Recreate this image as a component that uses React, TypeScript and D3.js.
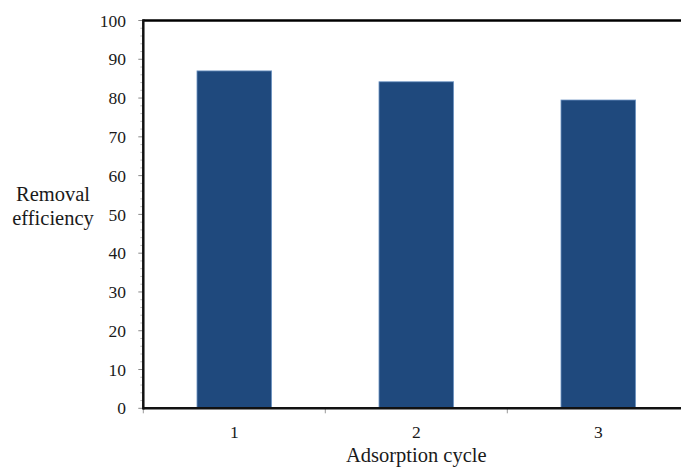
import React, { useEffect } from 'react';
import * as d3 from 'd3';

// Values
const cycles = ['1', '2', '3'];
const removal = [87.0, 84.2, 79.5];
const yTicks = [0, 10, 20, 30, 40, 50, 60, 70, 80, 90, 100];

const W = 681;
const H = 469;
const margin = { top: 20.5, right: -8.3, bottom: 60.7, left: 143.3 };

const FONT = "'Liberation Serif', 'Times New Roman', Times, serif";
const txt = { fontFamily: FONT } as React.CSSProperties;

export default function App() {
  useEffect(() => {
    document.body.style.margin = '0';
  }, []);

  const x = d3
    .scaleBand<string>()
    .domain(cycles)
    .range([margin.left, W - margin.right])
    .paddingInner(0.59)
    .paddingOuter(0.295);

  const y = d3.scaleLinear().domain([0, 100]).range([H - margin.bottom, margin.top]);

  const step = (W - margin.right - margin.left) / cycles.length;
  const boundaries = d3.range(cycles.length + 1).map(i => margin.left + i * step);
  const minor = d3.range(0, 101, 2).filter(v => v % 10 !== 0);

  const x0 = margin.left;
  const yBase = y(0);
  const yTop = y(100);

  return (
    <svg width={W} height={H} style={{ display: 'block', background: '#fff' }}>
      {/* bars */}
      {cycles.map((c, i) => (
        <rect
          key={c}
          x={x(c)}
          y={y(removal[i])}
          width={x.bandwidth()}
          height={yBase - y(removal[i])}
          fill="#1F497D"
          stroke="#6f95c4"
          strokeWidth={0.8}
        />
      ))}

      {/* y minor ticks */}
      {minor.map(v => (
        <line key={'m' + v} x1={x0 - 3} x2={x0} y1={y(v)} y2={y(v)} stroke="#bbb" strokeWidth={1} />
      ))}
      {/* y major ticks + labels */}
      {yTicks.map(v => (
        <g key={v}>
          <line x1={x0 - 5} x2={x0} y1={y(v)} y2={y(v)} stroke="#888" strokeWidth={1} />
          <text x={126} y={y(v)} dy="0.35em" textAnchor="end" style={txt} fontSize={17.5} fill="#1a1a1a">
            {v}
          </text>
        </g>
      ))}

      {/* x ticks at category boundaries */}
      {boundaries.map((b, i) => (
        <line key={'b' + i} x1={b} x2={b} y1={yBase} y2={yBase + 5} stroke="#999" strokeWidth={1} />
      ))}
      {cycles.map(c => (
        <text
          key={'l' + c}
          x={(x(c) as number) + x.bandwidth() / 2}
          y={438}
          textAnchor="middle"
          style={txt}
          fontSize={17.5}
          fill="#1a1a1a"
        >
          {c}
        </text>
      ))}

      {/* frame: top, left, bottom */}
      <line x1={x0} x2={W} y1={yTop} y2={yTop} stroke="#000" strokeWidth={2.5} />
      <line x1={x0} x2={x0} y1={yTop - 1.25} y2={yBase + 1.25} stroke="#111" strokeWidth={2.5} />
      <line x1={x0} x2={W} y1={yBase} y2={yBase} stroke="#111" strokeWidth={2.5} />

      {/* axis titles */}
      <text
        x={(margin.left + W - margin.right) / 2}
        y={462}
        textAnchor="middle"
        style={txt}
        fontSize={20.5}
        fill="#1a1a1a"
      >
        Adsorption cycle
      </text>
      <text textAnchor="middle" style={txt} fontSize={20.5} fill="#1a1a1a">
        <tspan x={53} y={201}>Removal</tspan>
        <tspan x={53} y={225}>efficiency</tspan>
      </text>
    </svg>
  );
}
